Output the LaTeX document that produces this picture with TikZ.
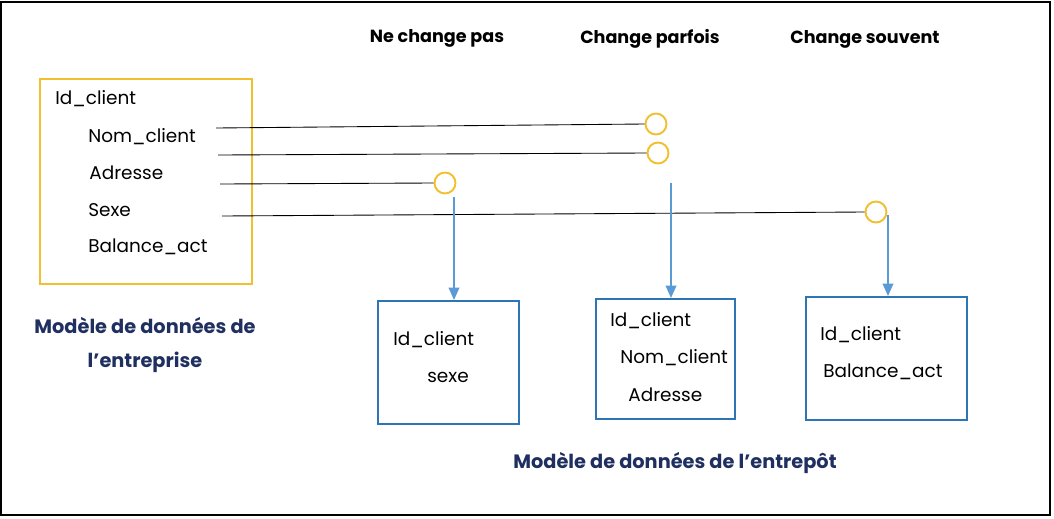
\documentclass[tikz,border=0pt]{standalone}
\usepackage{fontspec}
\setmainfont{Poppins}
\usetikzlibrary{arrows.meta}

\definecolor{jaune}{HTML}{F2BF2F}
\definecolor{bleu}{HTML}{2E75B6}
\definecolor{fleche}{HTML}{5B9BD5}
\definecolor{marine}{HTML}{1F2F5F}

\begin{document}
\begin{tikzpicture}[x=0.02cm, y=-0.02cm,
	champ/.style={anchor=west, inner sep=0pt, font=\fontsize{10.5}{12}\selectfont},
	entete/.style={inner sep=0pt, font=\fontsize{10}{12}\selectfont\bfseries},
	legende/.style={inner sep=0pt, text=marine, font=\fontsize{11}{13}\selectfont\bfseries},
	rond/.style={circle, draw=jaune, line width=1.1pt, minimum size=0.42cm, inner sep=0pt},
	table/.style={draw=bleu, line width=1.1pt, anchor=north west, inner sep=0pt},
	fil/.style={black, line width=0.5pt},
	lien/.style={fleche, line width=1pt, -{Triangle[length=7pt,width=6pt]}}]

	% page size and outer frame
	\useasboundingbox (0,0) rectangle (1054,518);
	\draw[line width=1.6pt] (1,2) rectangle (1050,515);

	% column headings
	\node[entete] (h1) at (437,38) {Ne change pas};
	\node[entete] (h2) at (650,39) {Change parfois};
	\node[entete] (h3) at (865,39) {Change souvent};

	% enterprise model
	\node[draw=jaune, line width=1.1pt, anchor=north west, minimum width=4.24cm, minimum height=4.1cm, inner sep=0pt] (ent) at (39,78) {};
	\node[champ] (id) at (55,99) {Id\_client};
	\node[champ] (nom) at (88,137) {Nom\_client};
	\node[champ] (adr) at (89,173) {Adresse};
	\node[champ] (sexe) at (88,210) {Sexe};
	\node[champ] (bal) at (88,247) {Balance\_act};
	\node[legende] (l1) at (145,326) {Modèle de données de};
	\node[legende] (l2) at (145,362) {l’entreprise};

	% circles on the change columns
	\node[rond] (c1) at (656,124) {};
	\node[rond] (c2) at (658,153) {};
	\node[rond] (c3) at (445,183) {};
	\node[rond] (c4) at (876,212) {};

	% start points of the attribute lines
	\coordinate (s1) at (216,128);
	\coordinate (s2) at (218,155);
	\coordinate (s3) at (220,184);
	\coordinate (s4) at (222,216);
	\draw[fil] (s1) -- (c1.west);
	\draw[fil] (s2) -- (c2.west);
	\draw[fil] (s3) -- (c3.west);
	\draw[fil] (s4) -- (c4.west);

	% warehouse model
	\node[table, minimum width=2.82cm, minimum height=2.46cm] (t1) at (377,300) {};
	\node[table, minimum width=2.78cm, minimum height=2.4cm] (t2) at (595,298) {};
	\node[table, minimum width=3.22cm, minimum height=2.46cm] (t3) at (805,296) {};

	\node[champ] (t1a) at (393,340) {Id\_client};
	\node[champ] (t1b) at (427,377) {sexe};
	\node[champ] (t2a) at (610,321) {Id\_client};
	\node[champ] (t2b) at (620,358) {Nom\_client};
	\node[champ] (t2c) at (628,395) {Adresse};
	\node[champ] (t3a) at (820,335) {Id\_client};
	\node[champ] (t3b) at (823,372) {Balance\_act};

	\node[legende] (l3) at (675,463) {Modèle de données de l’entrepôt};

	% arrows down to the tables
	\coordinate (a1) at (454,197);
	\coordinate (a2) at (671,183);
	\coordinate (a3) at (888,215);
	\draw[lien] (a1) -- (a1 |- t1.north);
	\draw[lien] (a2) -- (a2 |- t2.north);
	\draw[lien] (a3) -- (a3 |- t3.north);

\end{tikzpicture}
\end{document}
